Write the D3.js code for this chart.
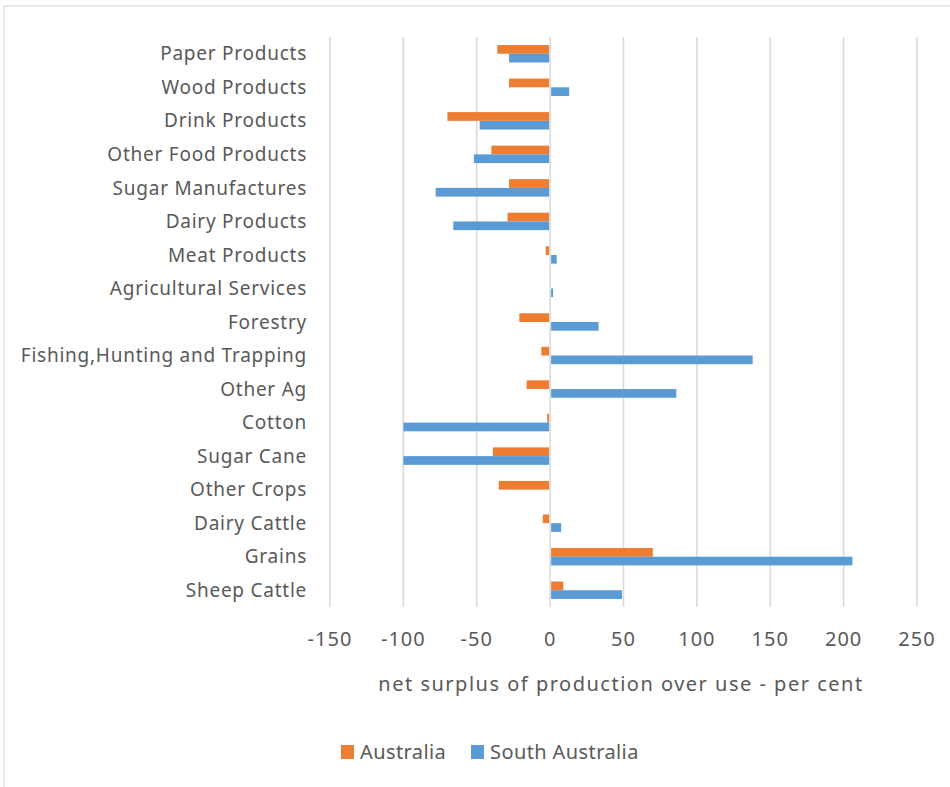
<!DOCTYPE html>
<html>
<head>
<meta charset="utf-8">
<script src="https://cdn.jsdelivr.net/npm/d3@7"></script>
<style>
  body { margin: 0; background: #fff; }
  text { font-family: "Noto Sans", sans-serif; fill: #595959; }
</style>
</head>
<body>
<div id="chart"></div>
<script>
// categories, top to bottom
var categories = ["Paper Products", "Wood Products", "Drink Products", "Other Food Products",
    "Sugar Manufactures", "Dairy Products", "Meat Products", "Agricultural Services",
    "Forestry", "Fishing,Hunting and Trapping", "Other Ag", "Cotton", "Sugar Cane",
    "Other Crops", "Dairy Cattle", "Grains", "Sheep Cattle"];

// net surplus, per cent
var australia = [-36, -28, -70, -40, -28, -29, -3, 0, -21, -6, -16, -2, -39, -35, -5, 70, 9];
var southAustralia = [-28, 13, -48, -52, -78, -66, 4.5, 2, 33, 138, 86, -100, -100, 0, 7.5, 206, 49];

var xTicks = [-150, -100, -50, 0, 50, 100, 150, 200, 250];
var seriesNames = ["Australia", "South Australia"];
var colors = ["#ED7D31", "#5B9BD5"];

var width = 950, height = 787;
var plotLeft = 330, plotRight = 917, plotTop = 37, plotBottom = 607;

var svg = d3.select("#chart").append("svg")
    .attr("width", width)
    .attr("height", height);

// chart border
svg.append("rect")
    .attr("x", 4).attr("y", 6)
    .attr("width", 1000).attr("height", 1000)
    .attr("fill", "none")
    .attr("stroke", "#d9d9d9")
    .attr("stroke-width", 1.2);

var x = d3.scaleLinear().domain([-150, 250]).range([plotLeft, plotRight]);

var y = d3.scaleBand()
    .domain(categories)
    .range([plotTop, plotBottom])
    .paddingInner(0.48)
    .paddingOuter(0.24);

var ySub = d3.scaleBand()
    .domain(seriesNames)
    .range([0, y.bandwidth()]);

// gridlines
svg.append("g").selectAll("line")
    .data(xTicks)
    .enter().append("line")
    .attr("x1", function (d) { return x(d); })
    .attr("x2", function (d) { return x(d); })
    .attr("y1", plotTop)
    .attr("y2", plotBottom)
    .attr("stroke", "#d9d9d9")
    .attr("stroke-width", 1.5);

// bars
[australia, southAustralia].forEach(function (values, s) {
    svg.append("g").selectAll("rect")
        .data(values)
        .enter().append("rect")
        .attr("x", function (d) { return d < 0 ? x(d) : x(0) + 1; })
        .attr("y", function (d, i) { return y(categories[i]) + ySub(seriesNames[s]); })
        .attr("width", function (d) { return d === 0 ? 0 : Math.max(0, Math.abs(x(d) - x(0)) - 1); })
        .attr("height", ySub.bandwidth())
        .attr("fill", colors[s]);
});

// category labels
svg.append("g").selectAll("text")
    .data(categories)
    .enter().append("text")
    .attr("x", 307)
    .attr("y", function (d) { return y(d) + y.bandwidth() / 2; })
    .attr("dy", "0.35em")
    .attr("text-anchor", "end")
    .attr("font-size", 19)
    .attr("letter-spacing", 0.75)
    .text(function (d) { return d; });

// tick labels
svg.append("g").selectAll("text")
    .data(xTicks)
    .enter().append("text")
    .attr("x", function (d) { return x(d); })
    .attr("y", 639)
    .attr("dy", "0.35em")
    .attr("text-anchor", "middle")
    .attr("font-size", 20)
    .attr("letter-spacing", 1)
    .text(function (d) { return d; });

// axis title
svg.append("text")
    .attr("x", 621)
    .attr("y", 684)
    .attr("dy", "0.35em")
    .attr("text-anchor", "middle")
    .attr("font-size", 20)
    .attr("letter-spacing", 1.5)
    .text("net surplus of production over use - per cent");

// legend
var legendX = [341, 471];
var legend = svg.append("g").selectAll("g")
    .data(seriesNames)
    .enter().append("g")
    .attr("transform", function (d, i) { return "translate(" + legendX[i] + ",752)"; });

legend.append("rect")
    .attr("x", 0).attr("y", -7)
    .attr("width", 13).attr("height", 14)
    .attr("fill", function (d, i) { return colors[i]; });

legend.append("text")
    .attr("x", 19)
    .attr("dy", "0.35em")
    .attr("font-size", 20)
    .attr("letter-spacing", 0.4)
    .text(function (d) { return d; });
</script>
</body>
</html>
